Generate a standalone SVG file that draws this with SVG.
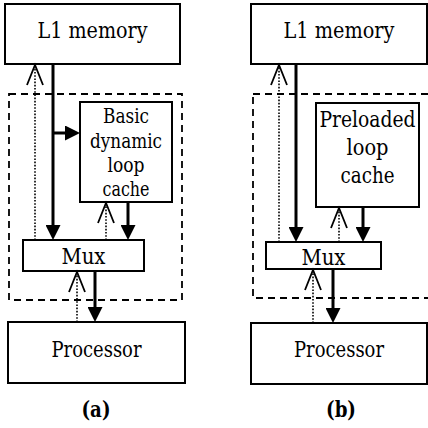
<svg xmlns="http://www.w3.org/2000/svg" width="428" height="428" viewBox="0 0 428 428">
<style>
.box{fill:#fff;stroke:#000;stroke-width:2}
.dash{fill:none;stroke:#000;stroke-width:1.8;stroke-dasharray:7 5}
.t{font-family:"DejaVu Serif","Liberation Serif",serif;font-size:21.5px;text-anchor:middle;fill:#000}
.s{font-size:19.5px}
.p{font-size:22px}
.lab{font-family:"DejaVu Serif","Liberation Serif",serif;font-size:22px;font-weight:bold;text-anchor:middle;fill:#000}
.solid{stroke:#000;stroke-width:3;fill:none;marker-end:url(#fill)}
.dot{stroke:#000;stroke-width:1.6;stroke-dasharray:1.6 1.6;fill:none;marker-end:url(#open)}
</style>
<defs>
<marker id="fill" viewBox="0 0 15 15" markerWidth="15" markerHeight="15" refX="8" refY="7.5" orient="auto" markerUnits="userSpaceOnUse">
<path d="M0,0 L15,7.5 L0,15 z" fill="#000"/>
</marker>
<marker id="open" viewBox="-1 -1 23 18" markerWidth="23" markerHeight="18" refX="20" refY="8" orient="auto" markerUnits="userSpaceOnUse" overflow="visible">
<path d="M0,0 L20,8 L0,16" fill="none" stroke="#000" stroke-width="1.8"/>
</marker>
</defs>

<g id="a-container"><rect class="dash" x="9" y="94" width="173" height="206"/></g>
<g id="a-l1"><rect class="box" x="5" y="4" width="175" height="60"/><text class="t" x="92.5" y="38" textLength="110" lengthAdjust="spacingAndGlyphs">L1 memory</text></g>
<g id="a-cache"><rect class="box" x="80" y="102" width="92" height="100"/>
<text class="t s" x="126" y="123" textLength="46" lengthAdjust="spacingAndGlyphs">Basic</text>
<text class="t s" x="126" y="148" textLength="72" lengthAdjust="spacingAndGlyphs">dynamic</text>
<text class="t s" x="126" y="172" textLength="37" lengthAdjust="spacingAndGlyphs">loop</text>
<text class="t s" x="126" y="196" textLength="47" lengthAdjust="spacingAndGlyphs">cache</text></g>
<g id="a-mux"><rect class="box" x="23" y="240" width="121" height="31"/><text class="t" x="83.5" y="264" textLength="44" lengthAdjust="spacingAndGlyphs">Mux</text></g>
<g id="a-proc"><rect class="box" x="8" y="322" width="177" height="61"/><text class="t" x="96.5" y="357" textLength="90" lengthAdjust="spacingAndGlyphs">Processor</text></g>
<g id="a-label"><text class="lab" x="96" y="417" textLength="29" lengthAdjust="spacingAndGlyphs">(a)</text></g>

<g id="b-container"><rect class="dash" x="253" y="94" width="185" height="204"/></g>
<g id="b-l1"><rect class="box" x="251" y="4" width="176" height="60"/><text class="t" x="339" y="38" textLength="111" lengthAdjust="spacingAndGlyphs">L1 memory</text></g>
<g id="b-cache"><rect class="box" x="316" y="103" width="103" height="104"/>
<text class="t p" x="367.5" y="127" textLength="96" lengthAdjust="spacingAndGlyphs">Preloaded</text>
<text class="t p" x="367.5" y="155" textLength="42" lengthAdjust="spacingAndGlyphs">loop</text>
<text class="t p" x="367.5" y="183" textLength="54" lengthAdjust="spacingAndGlyphs">cache</text></g>
<g id="b-mux"><rect class="box" x="266" y="242" width="115" height="27"/><text class="t" x="323.5" y="265" textLength="44" lengthAdjust="spacingAndGlyphs">Mux</text></g>
<g id="b-proc"><rect class="box" x="251" y="323" width="176" height="61"/><text class="t" x="339" y="357" textLength="90" lengthAdjust="spacingAndGlyphs">Processor</text></g>
<g id="b-label"><text class="lab" x="341" y="417" textLength="30" lengthAdjust="spacingAndGlyphs">(b)</text></g>

<g id="connectors">
<line class="dot" x1="35" y1="240" x2="35" y2="65"/>
<line class="solid" x1="53" y1="64" x2="53" y2="233"/>
<line class="solid" x1="53" y1="133" x2="73" y2="133"/>
<line class="dot" x1="106" y1="240" x2="106" y2="203"/>
<line class="solid" x1="128" y1="202" x2="128" y2="233"/>
<line class="dot" x1="77" y1="322" x2="77" y2="272"/>
<line class="solid" x1="95" y1="271" x2="95" y2="315"/>

<line class="dot" x1="279" y1="242" x2="279" y2="65"/>
<line class="solid" x1="296" y1="64" x2="296" y2="235"/>
<line class="dot" x1="339" y1="242" x2="339" y2="208"/>
<line class="solid" x1="363" y1="207" x2="363" y2="235"/>
<line class="dot" x1="313" y1="323" x2="313" y2="270"/>
<line class="solid" x1="333" y1="269" x2="333" y2="316"/>
</g>
</svg>
